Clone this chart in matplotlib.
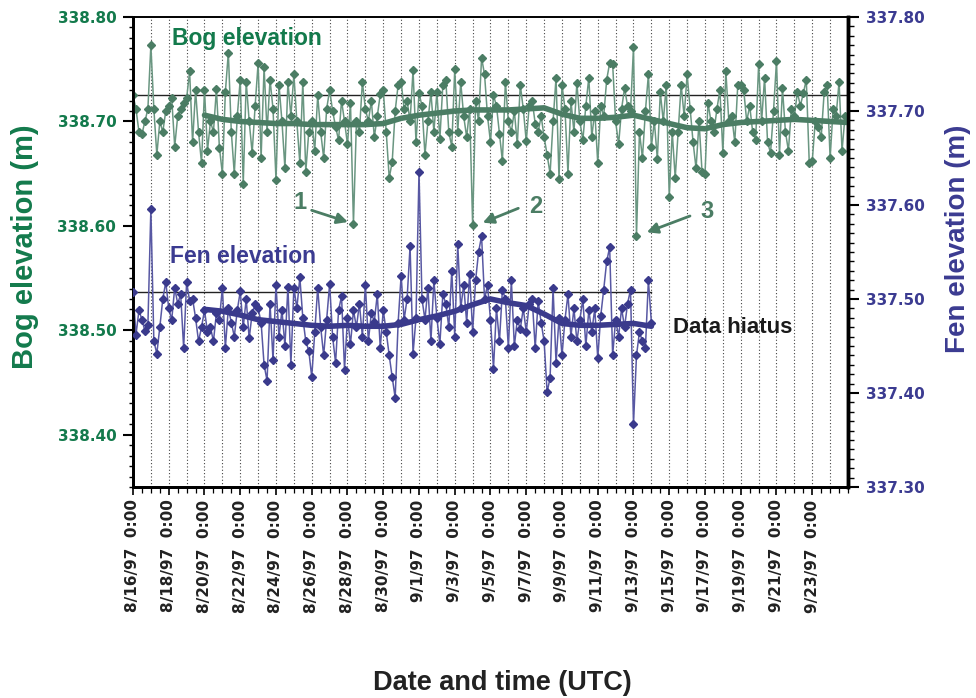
import numpy as np
import pandas as pd
import matplotlib
matplotlib.use("Agg")
import matplotlib.pyplot as plt
import matplotlib.dates as mdates
from matplotlib.ticker import MultipleLocator, FixedLocator

plt.rcParams['font.family'] = ['Liberation Sans', 'DejaVu Sans']
plt.rcParams['font.weight'] = 'bold'

# ---------------- data ----------------
bog_start = '1997-08-16 00:00'   # 4-hourly samples
bog_values = [
    338.725, 338.712, 338.690, 338.688, 338.700, 338.712,
    338.773, 338.712, 338.668, 338.700, 338.690, 338.710,
    338.715, 338.722, 338.676, 338.705, 338.712, 338.718,
    338.722, 338.748, 338.680, 338.730, 338.690, 338.660,
    338.730, 338.672, 338.700, 338.690, 338.731, 338.675,
    338.650, 338.728, 338.766, 338.690, 338.650, 338.705,
    338.740, 338.640, 338.738, 338.700, 338.670, 338.715,
    338.756, 338.665, 338.752, 338.690, 338.740, 338.712,
    338.644, 338.735, 338.700, 338.655, 338.738, 338.705,
    338.745, 338.700, 338.660, 338.738, 338.652, 338.690,
    338.700, 338.672, 338.725, 338.690, 338.665, 338.712,
    338.730, 338.710, 338.695, 338.682, 338.720, 338.700,
    338.678, 338.718, 338.602, 338.700, 338.690, 338.738,
    338.712, 338.700, 338.720, 338.685, 338.705, 338.726,
    338.730, 338.690, 338.646, 338.661, 338.710, 338.735,
    338.738, 338.712, 338.720, 338.700, 338.749, 338.680,
    338.727, 338.715, 338.668, 338.700, 338.728, 338.690,
    338.728, 338.683, 338.735, 338.740, 338.690, 338.676,
    338.750, 338.690, 338.738, 338.705, 338.685, 338.712,
    338.601, 338.720, 338.700, 338.761, 338.745, 338.705,
    338.680, 338.725, 338.715, 338.688, 338.662, 338.738,
    338.700, 338.690, 338.710, 338.678, 338.735, 338.712,
    338.681, 338.715, 338.720, 338.698, 338.690, 338.705,
    338.685, 338.668, 338.650, 338.700, 338.742, 338.645,
    338.735, 338.712, 338.650, 338.720, 338.690, 338.737,
    338.700, 338.682, 338.715, 338.742, 338.685, 338.710,
    338.660, 338.715, 338.705, 338.740, 338.756, 338.755,
    338.700, 338.678, 338.712, 338.732, 338.715, 338.710,
    338.771, 338.590, 338.690, 338.665, 338.710, 338.745,
    338.676, 338.700, 338.664, 338.728, 338.700, 338.735,
    338.628, 338.690, 338.646, 338.690, 338.735, 338.705,
    338.745, 338.712, 338.680, 338.655, 338.700, 338.652,
    338.650, 338.718, 338.700, 338.690, 338.712, 338.730,
    338.670, 338.748, 338.700, 338.705, 338.680, 338.735,
    338.735, 338.730, 338.700, 338.715, 338.690, 338.682,
    338.755, 338.700, 338.742, 338.680, 338.670, 338.710,
    338.758, 338.668, 338.732, 338.690, 338.672, 338.712,
    338.705, 338.728, 338.715, 338.727, 338.740, 338.660,
    338.662, 338.700, 338.695, 338.685, 338.728, 338.735,
    338.665, 338.712, 338.705, 338.738, 338.672, 338.705,
]

fen_start = '1997-08-16 00:00'   # 4-hourly samples
fen_values = [
    337.507, 337.462, 337.488, 337.478, 337.466, 337.472,
    337.596, 337.455, 337.442, 337.470, 337.500, 337.518,
    337.490, 337.478, 337.512, 337.495, 337.505, 337.448,
    337.518, 337.498, 337.500, 337.480, 337.455, 337.470,
    337.488, 337.465, 337.470, 337.455, 337.485, 337.478,
    337.512, 337.448, 337.490, 337.475, 337.460, 337.488,
    337.508, 337.470, 337.500, 337.458, 337.485, 337.495,
    337.490, 337.475, 337.430, 337.413, 337.495, 337.435,
    337.515, 337.460, 337.488, 337.450, 337.513, 337.430,
    337.512, 337.490, 337.523, 337.480, 337.455, 337.445,
    337.417, 337.465, 337.512, 337.470, 337.440, 337.478,
    337.516, 337.460, 337.432, 337.488, 337.503, 337.425,
    337.480, 337.452, 337.488, 337.470, 337.495, 337.460,
    337.515, 337.455, 337.485, 337.476, 337.505, 337.448,
    337.488, 337.465, 337.440, 337.417, 337.395, 337.475,
    337.525, 337.478, 337.500, 337.556, 337.442, 337.480,
    337.635, 337.500, 337.478, 337.512, 337.455, 337.520,
    337.480, 337.452, 337.505, 337.495, 337.470, 337.530,
    337.460, 337.559, 337.490, 337.515, 337.475, 337.527,
    337.465, 337.520, 337.550, 337.567, 337.500, 337.515,
    337.478, 337.426, 337.490, 337.455, 337.510, 337.500,
    337.448, 337.520, 337.450, 337.478, 337.468, 337.490,
    337.465, 337.495, 337.500, 337.448, 337.498, 337.475,
    337.455, 337.401, 337.416, 337.512, 337.432, 337.480,
    337.440, 337.478, 337.505, 337.460, 337.490, 337.455,
    337.478, 337.500, 337.450, 337.488, 337.465, 337.490,
    337.437, 337.482, 337.510, 337.540, 337.555, 337.440,
    337.478, 337.460, 337.490, 337.470, 337.495, 337.510,
    337.367, 337.440, 337.465, 337.455, 337.448, 337.520,
    337.475,
]

# smoothed curves (daily)
bog_smooth_start = '1997-08-20'
bog_smooth = [338.706, 338.702, 338.700, 338.699, 338.698, 338.698, 338.697,
              338.697, 338.697, 338.697, 338.698, 338.703, 338.706, 338.708,
              338.710, 338.711, 338.711, 338.711, 338.712, 338.713, 338.707,
              338.703, 338.703, 338.704, 338.706, 338.702, 338.698, 338.694,
              338.693, 338.697, 338.699, 338.700, 338.701, 338.702, 338.701,
              338.700, 338.699]
fen_smooth_start = '1997-08-20'
fen_smooth = [337.489, 337.487, 337.483, 337.478, 337.476, 337.474, 337.472,
              337.471, 337.472, 337.471, 337.471, 337.473, 337.478, 337.482,
              337.487, 337.494, 337.500, 337.496, 337.493, 337.484, 337.474,
              337.472, 337.472, 337.473, 337.474, 337.471]

bog_ref_level = 338.7255
fen_ref_level = 337.507
fen_ref_end = '1997-09-14 00:00'

tick_dates = ['1997-08-16', '1997-08-18', '1997-08-20', '1997-08-22', '1997-08-24',
              '1997-08-26', '1997-08-28', '1997-08-30', '1997-09-01', '1997-09-03',
              '1997-09-05', '1997-09-07', '1997-09-09', '1997-09-11', '1997-09-13',
              '1997-09-15', '1997-09-17', '1997-09-19', '1997-09-21', '1997-09-23']
tick_labels = ['8/16/97  0:00', '8/18/97  0:00', '8/20/97  0:00', '8/22/97  0:00',
               '8/24/97  0:00', '8/26/97  0:00', '8/28/97  0:00', '8/30/97  0:00',
               '9/1/97  0:00', '9/3/97  0:00', '9/5/97  0:00', '9/7/97  0:00',
               '9/9/97  0:00', '9/11/97  0:00', '9/13/97  0:00', '9/15/97  0:00',
               '9/17/97  0:00', '9/19/97  0:00', '9/21/97  0:00', '9/23/97  0:00']
bog_yticks = [338.40, 338.50, 338.60, 338.70, 338.80]
fen_yticks = [337.30, 337.40, 337.50, 337.60, 337.70, 337.80]

# ---------------- styling ----------------
BOG_C = '#4b7d64'
BOG_LINE = '#6a9681'
BOG_TXT = '#137a4c'
FEN_C = '#3a3a8c'
FEN_LINE = '#5858a3'
FEN_TXT = '#3b3b91'

bog_t = pd.date_range(bog_start, periods=len(bog_values), freq='4h')
fen_t = pd.date_range(fen_start, periods=len(fen_values), freq='4h')
bog_st = pd.date_range(bog_smooth_start, periods=len(bog_smooth), freq='1D')
fen_st = pd.date_range(fen_smooth_start, periods=len(fen_smooth), freq='1D')

fig = plt.figure(figsize=(9.76, 6.98), dpi=100)
ax = fig.add_axes([133/976, 1-487/698, 715/976, 470/698])
ax2 = ax.twinx()

x0 = pd.Timestamp('1997-08-16')
x1 = pd.Timestamp('1997-09-25')
ax.set_xlim(x0, x1)
ax.set_ylim(338.35, 338.80)
ax2.set_ylim(337.30, 337.80)

# daily dotted grid
for d in pd.date_range('1997-08-17', '1997-09-24', freq='1D'):
    ax.axvline(d, color='#444444', lw=0.8, ls=(0, (1, 2)), zorder=0)

# reference lines
ax.axhline(bog_ref_level, color='#222222', lw=1.0, zorder=1)
ax2.plot([x0, pd.Timestamp(fen_ref_end)], [fen_ref_level, fen_ref_level],
         color='#222222', lw=1.0, zorder=1)

# bog series
ax.plot(bog_t, bog_values, color=BOG_LINE, lw=1.1, zorder=2)
ax.plot(bog_t, bog_values, ls='none', marker='D', ms=3.6, color=BOG_C, zorder=3)
ax.plot(bog_st, bog_smooth, color=BOG_C, lw=4, solid_capstyle='round', zorder=4)

# fen series
ax2.plot(fen_t, fen_values, color=FEN_LINE, lw=1.1, zorder=2)
ax2.plot(fen_t, fen_values, ls='none', marker='D', ms=3.6, color=FEN_C, zorder=3)
ax2.plot(fen_st, fen_smooth, color=FEN_C, lw=4, solid_capstyle='round', zorder=4)

# x ticks
ax.xaxis.set_major_locator(FixedLocator(mdates.date2num(pd.to_datetime(tick_dates))))
ax.set_xticklabels(tick_labels, rotation=90, fontsize=11,
                   family=['DejaVu Sans'], fontweight='bold', color='#222222')
ax.xaxis.set_minor_locator(mdates.HourLocator(byhour=[0, 12]))
ax.tick_params(axis='x', which='major', direction='out', length=6, width=1.2, pad=3)
ax.tick_params(axis='x', which='minor', direction='out', length=4, width=0.9)

# y ticks
ax.set_yticks(bog_yticks)
ax.set_yticklabels([f'{v:.2f}' for v in bog_yticks], fontsize=11,
                   family=['DejaVu Sans'], fontweight='bold', color=BOG_TXT)
ax.yaxis.set_minor_locator(MultipleLocator(0.01))
ax.tick_params(axis='y', which='major', direction='out', length=7, width=1.5, pad=5)
ax.tick_params(axis='y', which='minor', direction='out', length=3, width=1.0)

ax2.set_yticks(fen_yticks)
ax2.set_yticklabels([f'{v:.2f}' for v in fen_yticks], fontsize=11,
                    family=['DejaVu Sans'], fontweight='bold', color=FEN_TXT)
ax2.yaxis.set_minor_locator(MultipleLocator(0.01))
ax2.tick_params(axis='y', which='major', direction='out', length=8, width=1.5, pad=5)
ax2.tick_params(axis='y', which='minor', direction='out', length=4, width=1.0)

for a in (ax, ax2):
    a.spines['left'].set_linewidth(2.0)
    a.spines['right'].set_linewidth(2.5)
    a.spines['top'].set_linewidth(1.2)
    a.spines['bottom'].set_linewidth(2.0)

# labels
fig.text(25/976, 1-247/698, 'Bog elevation (m)', rotation=90, ha='center', va='center',
         fontsize=21, fontweight='bold', color=BOG_TXT)
fig.text(958/976, 1-239/698, 'Fen elevation (m)', rotation=90, ha='center', va='center',
         fontsize=20, fontweight='bold', color=FEN_TXT)
fig.text(502/976, 1-683/698, 'Date and time (UTC)', ha='center', va='center',
         fontsize=19.5, fontweight='bold', color='#222222')

ax.text(0.0545, 0.9553, 'Bog elevation', transform=ax.transAxes, ha='left', va='center',
        fontsize=16.5, fontweight='bold', color=BOG_TXT, zorder=6)
ax.text(0.0517, 0.4894, 'Fen elevation', transform=ax.transAxes, ha='left', va='center',
        fontsize=16.5, fontweight='bold', color=FEN_TXT, zorder=6)
ax.text(0.7552, 0.3404, 'Data hiatus', transform=ax.transAxes, ha='left', va='center',
        fontsize=16, fontweight='bold', color='#1a1a1a', zorder=6)

# numbered call-outs
callouts = [('1', (0.2336, 0.6043), (0.2499, 0.5887), (0.3007, 0.5638)),
            ('2', (0.5632, 0.5964), (0.5389, 0.5930), (0.4891, 0.5623)),
            ('3', (0.8024, 0.5857), (0.7790, 0.5766), (0.7185, 0.5419))]
for lab, tpos, tail, head in callouts:
    ax.text(tpos[0], tpos[1], lab, transform=ax.transAxes, ha='center', va='center',
            fontsize=17, fontweight='bold', color=BOG_C, zorder=6)
    ax.annotate('', xy=head, xycoords='axes fraction', xytext=tail,
                textcoords='axes fraction',
                arrowprops=dict(arrowstyle='-|>', color=BOG_C, lw=2.0,
                                mutation_scale=16, shrinkA=0, shrinkB=0), zorder=6)

fig.savefig('out.png', dpi=100)
